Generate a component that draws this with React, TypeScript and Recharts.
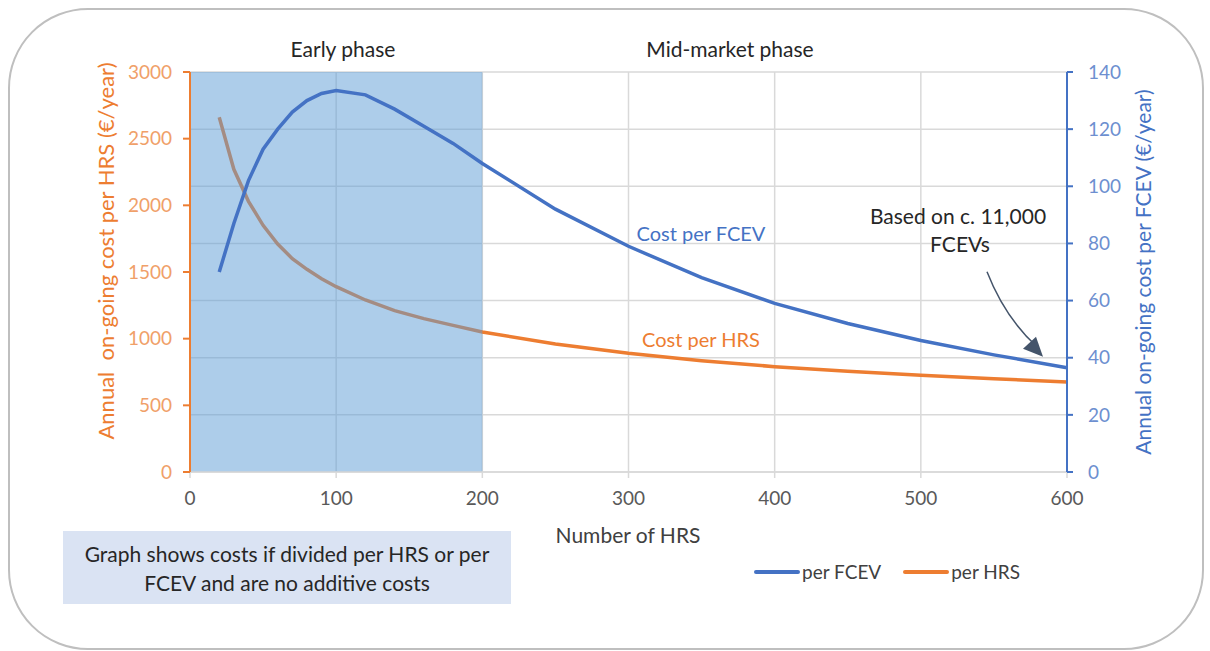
import React from 'react';
import {
  LineChart,
  Line,
  XAxis,
  YAxis,
  CartesianGrid,
  ReferenceArea,
  ReferenceDot,
} from 'recharts';

// number of hydrogen refuelling stations (x axis)
const stations = [20, 30, 40, 50, 60, 70, 80, 90, 100, 120, 140, 160, 180, 200, 250, 300, 350, 400, 450, 500, 550, 600];
// annual on-going cost per FCEV, €/year (right axis)
const perFcev = [70, 87, 102, 113, 120, 126, 130, 132.5, 133.5, 132, 127, 121, 115, 108, 92, 79, 68, 59, 52, 46, 41, 36.5];
// annual on-going cost per HRS, €/year (left axis)
const perHrs = [2660, 2270, 2030, 1850, 1710, 1600, 1520, 1450, 1390, 1290, 1210, 1150, 1100, 1050, 960, 890, 835, 790, 755, 725, 700, 675];

const xTicks = [0, 100, 200, 300, 400, 500, 600];
const leftTicks = [0, 500, 1000, 1500, 2000, 2500, 3000];
const rightTicks = [0, 20, 40, 60, 80, 100, 120, 140];
const earlyPhase = [0, 200];

const data = stations.map((n, i) => ({ n, fcev: perFcev[i], hrs: perHrs[i] }));

const BLUE = '#4472c4';
const ORANGE = '#ed7d31';
const GRID = '#d9d9d9';
const FONT = "Lato, 'Open Sans', sans-serif";

const ArrowShape = (props: any) => {
  const { cx, cy } = props;
  if (cx == null || cy == null) return null;
  const sx = cx - 80;
  const sy = cy - 96;
  const tx = cx - 24;
  const ty = cy - 11;
  return (
    <g>
      <path d={`M${sx},${sy} Q${cx - 62},${cy - 50} ${tx - 6},${ty - 10}`} stroke="#44546a" strokeWidth={1.5} fill="none" />
      <path d={`M${tx},${ty} L${tx - 20},${ty - 8} L${tx - 7},${ty - 20} Z`} fill="#44546a" />
    </g>
  );
};

const legendItems = [
  { label: 'per FCEV', color: BLUE },
  { label: 'per HRS', color: ORANGE },
];

const abs = (x: number, y: number, extra: React.CSSProperties = {}): React.CSSProperties => ({
  position: 'absolute',
  left: x,
  top: y,
  transform: 'translate(-50%, -50%)',
  whiteSpace: 'nowrap',
  fontFamily: FONT,
  ...extra,
});

const App: React.FC = () => {
  return (
    <div style={{ position: 'absolute', left: 0, top: 0, width: 1210, height: 651, background: '#fff', fontFamily: FONT }}>
      <div
        style={{
          position: 'absolute',
          left: 8,
          top: 8,
          width: 1192,
          height: 638,
          border: '2px solid #bfbfbf',
          borderRadius: 80,
        }}
      />
      <div style={{ position: 'absolute', left: 0, top: 0 }}>
        <LineChart width={1210} height={651} data={data} margin={{ top: 72, right: 83, bottom: 149, left: 130 }}>
          <CartesianGrid yAxisId="right" stroke={GRID} strokeWidth={1.5} horizontalValues={rightTicks} verticalValues={xTicks} />
          <XAxis
            dataKey="n"
            type="number"
            domain={[0, 600]}
            ticks={xTicks}
            height={30}
            stroke={GRID}
            strokeWidth={1.5}
            tickSize={6}
            tickMargin={14}
            tick={{ fill: '#595959', fontSize: 19, fontFamily: FONT }}
          />
          <YAxis
            yAxisId="left"
            orientation="left"
            domain={[0, 3000]}
            ticks={leftTicks}
            width={60}
            stroke={ORANGE}
            strokeWidth={2}
            tickSize={7}
            tickMargin={11}
            tick={{ fill: '#f0a069', fontSize: 19, fontFamily: FONT }}
          />
          <YAxis
            yAxisId="right"
            orientation="right"
            domain={[0, 140]}
            ticks={rightTicks}
            width={60}
            stroke={BLUE}
            strokeWidth={2}
            tickSize={6}
            tickMargin={15}
            tick={{ fill: '#6d8fd0', fontSize: 19, fontFamily: FONT }}
          />
          <Line
            yAxisId="left"
            type="linear"
            dataKey="hrs"
            name="per HRS"
            stroke={ORANGE}
            strokeWidth={3.5}
            dot={false}
            isAnimationActive={false}
            zIndex={150}
          />
          <ReferenceArea
            yAxisId="left"
            x1={earlyPhase[0]}
            x2={earlyPhase[1]}
            y1={0}
            y2={3000}
            fill="#5b9bd5"
            fillOpacity={0.5}
            stroke="none"
            ifOverflow="visible"
            zIndex={160}
          />
          <Line
            yAxisId="right"
            type="linear"
            dataKey="fcev"
            name="per FCEV"
            stroke={BLUE}
            strokeWidth={3.5}
            dot={false}
            isAnimationActive={false}
            zIndex={400}
          />
          <ReferenceDot
            yAxisId="right"
            x={stations[stations.length - 1]}
            y={perFcev[perFcev.length - 1]}
            shape={ArrowShape}
            ifOverflow="visible"
            zIndex={450}
          />
        </LineChart>
      </div>

      <div style={{ position: 'absolute', left: 754, top: 560, display: 'flex', alignItems: 'center', fontSize: 19, color: '#404040' }}>
        {legendItems.map((it, i) => (
          <React.Fragment key={it.label}>
            <span style={{ display: 'inline-block', width: 46, height: 4, background: it.color, borderRadius: 2, marginLeft: i ? 22 : 0 }} />
            <span style={{ marginLeft: 2 }}>{it.label}</span>
          </React.Fragment>
        ))}
      </div>

      <div style={abs(343, 48, { fontSize: 21, color: '#262626' })}>Early phase</div>
      <div style={abs(730, 48, { fontSize: 21, color: '#262626' })}>Mid-market phase</div>
      <div style={abs(701, 233, { fontSize: 20, color: BLUE })}>Cost per FCEV</div>
      <div style={abs(701, 339, { fontSize: 20, color: ORANGE })}>Cost per HRS</div>
      <div style={abs(958, 215, { fontSize: 21, color: '#262626' })}>Based on c. 11,000</div>
      <div style={abs(960, 243, { fontSize: 21, color: '#262626' })}>FCEVs</div>
      <div style={abs(628, 534, { fontSize: 21, color: '#404040' })}>Number of HRS</div>
      <div style={abs(105, 251, { fontSize: 22, color: ORANGE, transform: 'translate(-50%, -50%) rotate(-90deg)' })}>
        Annual&nbsp; on-going cost per HRS (€/year)
      </div>
      <div style={abs(1142, 272, { fontSize: 21, color: BLUE, transform: 'translate(-50%, -50%) rotate(-90deg)' })}>
        Annual on-going cost per FCEV (€/year)
      </div>
      <div
        style={{
          position: 'absolute',
          left: 63,
          top: 531,
          width: 448,
          height: 73,
          background: '#dae3f3',
          display: 'flex',
          alignItems: 'center',
          justifyContent: 'center',
          textAlign: 'center',
          fontSize: 21,
          lineHeight: '29px',
          color: '#262626',
        }}
      >
        Graph shows costs if divided per HRS or per
        <br />
        FCEV and are no additive costs
      </div>
    </div>
  );
};

export default App;
